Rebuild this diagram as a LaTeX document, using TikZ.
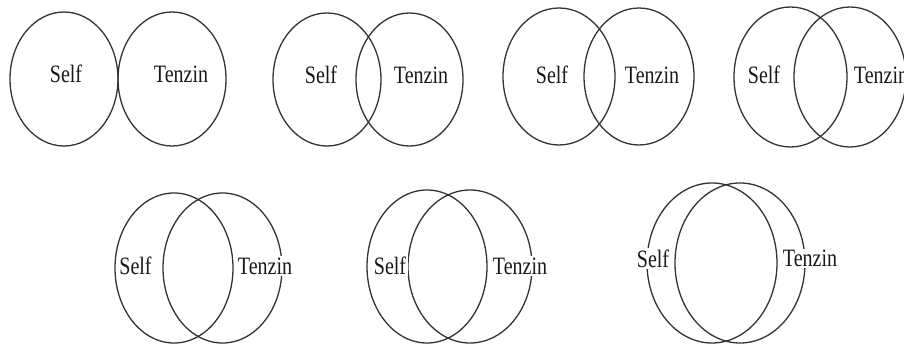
\documentclass[tikz,border=0pt]{standalone}
\usepackage{fontspec}
\setmainfont[FakeStretch=0.8]{Liberation Serif}
\begin{document}
\begin{tikzpicture}[x=1pt,y=-1pt,
  ring/.style={draw=black!80,line width=1.3pt},
  lbl/.style={fill=white,inner sep=1.5pt,font=\fontsize{25}{30}\selectfont,text=black!90}]
\useasboundingbox (0,0) rectangle (904,344);
\clip (0,0) rectangle (904,344);
% panel 1
\draw[ring] (64,79) ellipse [x radius=54,y radius=67];
\draw[ring] (172,79) ellipse [x radius=54,y radius=67];
\node[lbl] (s1) at (66,74) {Self};
\node[lbl] (t1) at (181,74) {Tenzin};
% panel 2
\draw[ring] (327,79.5) ellipse [x radius=54,y radius=66.5];
\draw[ring] (409.5,79.5) ellipse [x radius=53.5,y radius=66.5];
\node[lbl] (s2) at (321,75) {Self};
\node[lbl] (t2) at (421,75) {Tenzin};
% panel 3
\draw[ring] (559,76.5) ellipse [x radius=56,y radius=68.5];
\draw[ring] (639,76.5) ellipse [x radius=55,y radius=68.5];
\node[lbl] (s3) at (552,75) {Self};
\node[lbl] (t3) at (652,75) {Tenzin};
% panel 4
\draw[ring] (790.5,77) ellipse [x radius=56.5,y radius=70];
\draw[ring] (850,77) ellipse [x radius=56,y radius=70];
\node[lbl] (s4) at (764,75) {Self};
\node[lbl,inner sep=0pt] (t4) at (881,75) {Tenzin};
% panel 5
\draw[ring] (174,268) ellipse [x radius=59,y radius=75];
\draw[ring] (222.5,268) ellipse [x radius=59.5,y radius=75];
\node[lbl] (s5) at (135.5,266) {Self};
\node[lbl] (t5) at (265,266) {Tenzin};
% panel 6
\draw[ring] (427,266.5) ellipse [x radius=60,y radius=76.5];
\draw[ring] (470,266.5) ellipse [x radius=62,y radius=76.5];
\node[lbl] (s6) at (390,266) {Self};
\node[lbl] (t6) at (520,266) {Tenzin};
% panel 7
\draw[ring] (712,263) ellipse [x radius=65,y radius=80];
\draw[ring] (740,263) ellipse [x radius=65,y radius=80];
\node[lbl] (s7) at (653,258.5) {Self};
\node[lbl] (t7) at (810,258.5) {Tenzin};
\end{tikzpicture}
\end{document}
